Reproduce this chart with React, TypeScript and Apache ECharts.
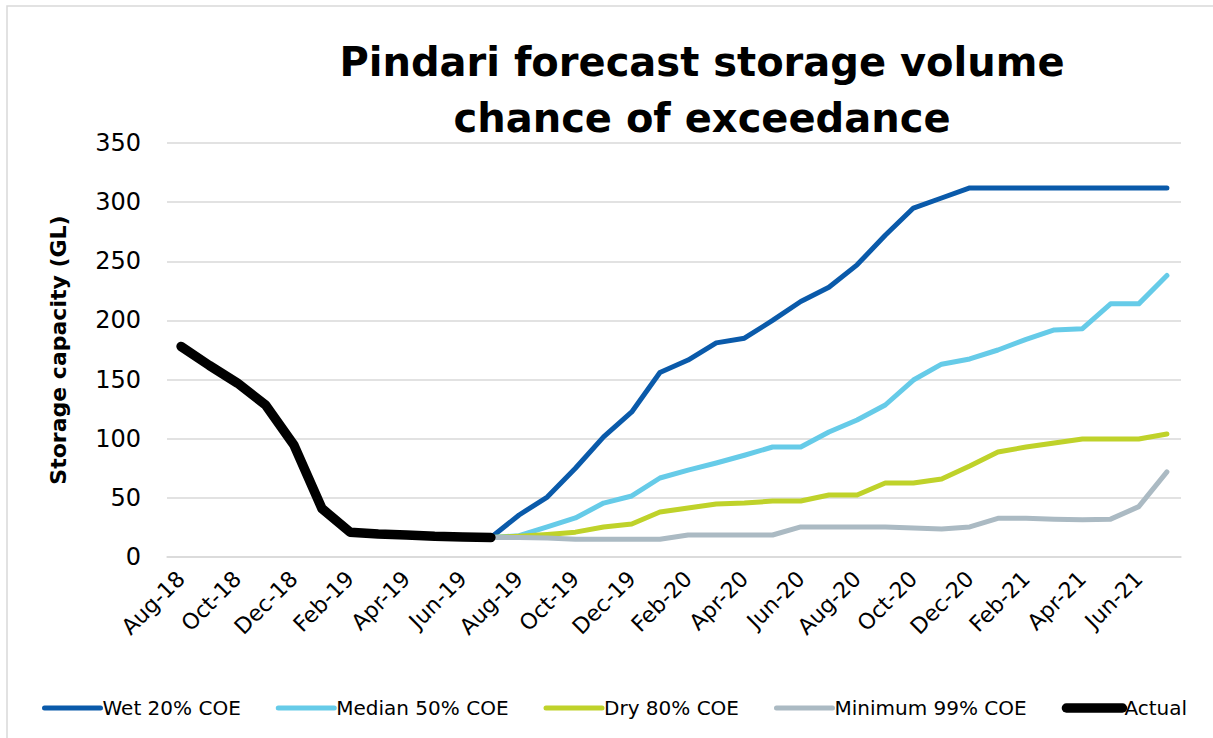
import React, { useEffect, useRef } from "react";
import * as echarts from "echarts";

const months = [
  "Aug-18", "Sep-18", "Oct-18", "Nov-18", "Dec-18", "Jan-19", "Feb-19", "Mar-19", "Apr-19", "May-19", "Jun-19", "Jul-19",
  "Aug-19", "Sep-19", "Oct-19", "Nov-19", "Dec-19", "Jan-20", "Feb-20", "Mar-20", "Apr-20", "May-20", "Jun-20", "Jul-20",
  "Aug-20", "Sep-20", "Oct-20", "Nov-20", "Dec-20", "Jan-21", "Feb-21", "Mar-21", "Apr-21", "May-21", "Jun-21", "Jul-21",
];

// Actual storage, Aug-18 to Jul-19
const actual = [178, 162, 147, 128.5, 95, 41, 21, 19.5, 18.6, 17.5, 17, 16.5];

// Forecasts, Jul-19 to Jul-21
const forecastStart = 11;
const wet20 = [16.5, 35.5, 50.7, 75, 101.5, 122.6, 156, 166.5, 181, 185, 200, 216, 228, 247, 272, 295, 303.5, 312, 312, 312, 312, 312, 312, 312, 312];
const median50 = [16.5, 18, 25.5, 33, 45.6, 51.6, 66.8, 73.5, 79.5, 86, 93, 93, 105.7, 115.8, 128.5, 149.6, 163, 167.4, 175, 184, 192, 193, 214, 214, 238];
const dry80 = [16.5, 17.5, 19, 21, 25.4, 27.9, 38, 41.4, 44.8, 45.6, 47.3, 47.3, 52.4, 52.4, 62.6, 62.6, 66, 77, 88.8, 93, 96.4, 99.7, 99.7, 99.7, 104];
const min99 = [16.5, 16.5, 16, 15, 15, 15, 15, 18.6, 18.6, 18.6, 18.6, 25.4, 25.4, 25.4, 25.4, 24.5, 23.7, 25.4, 32.7, 32.7, 32, 31.5, 32, 42.6, 72];

const yTicks = [0, 50, 100, 150, 200, 250, 300, 350];

const FONT = "'DejaVu Sans', sans-serif";

function pad(values: number[]): (number | null)[] {
  const out: (number | null)[] = [];
  for (let i = 0; i < forecastStart; i++) out.push(null);
  return out.concat(values);
}

export default function App() {
  const ref = useRef<HTMLDivElement>(null);
  useEffect(() => {
    if (!ref.current) return;
    const chart = echarts.init(ref.current, null, { renderer: "svg" });
    const mkLine = (name: string, data: (number | null)[], color: string, width: number) => ({
      name,
      type: "line",
      data,
      symbol: "none",
      connectNulls: false,
      lineStyle: { color, width, cap: "round", join: "round" },
      itemStyle: { color },
    });
    chart.setOption({
      animation: false,
      backgroundColor: "#ffffff",
      textStyle: { fontFamily: FONT },
      title: {
        text: "Pindari forecast storage volume\nchance of exceedance",
        left: 702,
        top: 34,
        textAlign: "center",
        padding: 0,
        textStyle: { fontFamily: FONT, fontSize: 40, fontWeight: "bold", color: "#000", lineHeight: 56 },
      },
      graphic: [
        {
          type: "rect",
          shape: { x: 7, y: 6, width: 1215, height: 740 },
          style: { fill: "none", stroke: "#d9d9d9", lineWidth: 1.5 },
          silent: true,
        },
      ],
      legend: {
        left: 42,
        top: 698,
        width: 1168,
        padding: 0,
        itemWidth: 56,
        itemHeight: 14,
        itemGap: 35,
        lineStyle: { width: "inherit", cap: "round" },
        itemStyle: { color: "transparent", borderColor: "transparent", borderWidth: 0, opacity: 0 },
        textStyle: { fontFamily: FONT, fontSize: 20, color: "#000", padding: [0, 0, 0, -3] },
        data: ["Wet 20% COE", "Median 50% COE", "Dry 80% COE", "Minimum 99% COE", "Actual"],
      },
      grid: { left: 167, right: 32, top: 143, bottom: 181, containLabel: false },
      xAxis: {
        type: "category",
        data: months,
        boundaryGap: true,
        axisLine: { lineStyle: { color: "#d9d9d9", width: 1.5 } },
        axisTick: { show: false },
        axisLabel: { interval: 1, rotate: 45, fontSize: 22, color: "#000", margin: 18, fontFamily: FONT },
      },
      yAxis: {
        type: "value",
        min: yTicks[0],
        max: yTicks[yTicks.length - 1],
        interval: 50,
        name: "Storage capacity (GL)",
        nameLocation: "middle",
        nameGap: 98,
        nameTextStyle: { fontFamily: FONT, fontSize: 22, fontWeight: "bold", color: "#000" },
        axisLine: { show: false },
        axisTick: { show: false },
        axisLabel: { fontSize: 24, color: "#000", margin: 26, fontFamily: FONT },
        splitLine: { lineStyle: { color: "#d9d9d9", width: 1.5 } },
      },
      series: [
        mkLine("Wet 20% COE", pad(wet20), "#0a5aaa", 5),
        mkLine("Median 50% COE", pad(median50), "#66cbe8", 5),
        mkLine("Dry 80% COE", pad(dry80), "#bfd22a", 5),
        mkLine("Minimum 99% COE", pad(min99), "#abbac3", 5),
        mkLine("Actual", actual, "#000000", 9.5),
      ],
    });
    return () => chart.dispose();
  }, []);
  return (
    <div
      ref={ref}
      style={{ position: "fixed", left: 0, top: 0, width: 1213, height: 738, background: "#fff" }}
    />
  );
}
